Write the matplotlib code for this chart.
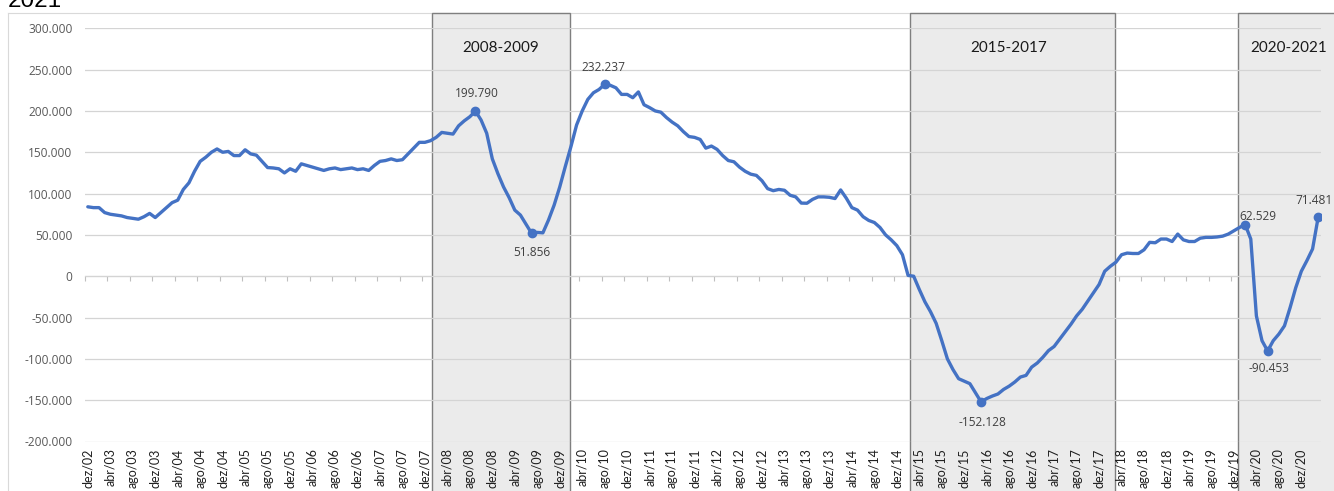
import matplotlib
matplotlib.use("Agg")
import matplotlib.pyplot as plt
import matplotlib.transforms as mtransforms
from matplotlib.patches import Rectangle
from matplotlib.lines import Line2D
from matplotlib.ticker import FuncFormatter

# ---------------- data ----------------
month_names = ["jan", "fev", "mar", "abr", "mai", "jun",
               "jul", "ago", "set", "out", "nov", "dez"]
start_year, start_month = 2002, 12
n_months = 220
categories = []
for k in range(n_months):
    m = (start_month - 1 + k) % 12
    y = start_year + (start_month - 1 + k) // 12
    categories.append(f"{month_names[m]}/{y % 100:02d}")

# values in thousands (dez/02 .. mar/21)
values_k = [
    84, 83, 83, 77, 75, 74, 73, 71, 70, 69,
    72, 76, 71, 77, 83, 89, 92, 105, 113, 127,
    139, 144, 150, 154, 150, 151, 146, 146, 153, 148,
    146.5, 139, 131.5, 131, 130, 125, 130, 127, 136, 134,
    132, 130, 128, 130, 131, 129, 130, 131, 129, 130,
    128, 134, 139, 140, 142, 140, 141, 148, 155, 162,
    162, 164, 168, 174, 173, 172, 182, 188, 193, 199.790,
    189, 173, 142, 124, 108, 95, 80, 74, 63, 51.856,
    53, 52.5, 68, 86, 108, 133, 157, 183, 200, 214,
    222, 226, 232.237, 231, 228, 220, 220, 216, 223, 207.5,
    204, 200, 198.5, 192, 186.5, 182, 175, 169, 168, 165.5,
    155, 157.5, 153.5, 146, 140, 138.5, 132, 127, 123.5, 122,
    115.5, 106, 103.5, 105, 104, 98, 96, 88.5, 88.3, 93,
    96, 96, 95.5, 94, 104.4, 94.5, 83, 80, 72, 67.5,
    65, 59, 50, 44, 37, 26, 1, 0, -16, -31,
    -43, -57, -78, -100, -113, -124, -127, -130, -141, -152.128,
    -148, -145, -142.5, -137, -133, -128, -122, -120, -110, -105,
    -98, -90, -85, -76, -67, -58, -48, -40, -30, -20,
    -10, 6, 12, 17, 26, 28, 27.5, 27.5, 32, 41,
    40.5, 45, 45, 42, 51, 44, 42, 42, 46, 47,
    47, 47.5, 48.5, 51, 55, 59, 62.529, 45, -48, -78,
    -90.453, -78, -70, -60, -38, -14, 6, 19, 33, 71.481,
]

highlight_idx = [69, 79, 92, 159, 206, 210, 219]

period_labels = ["2008-2009", "2015-2017", "2020-2021"]
period_start = [61.2, 146.4, 204.8]
period_end = [85.8, 182.9, 232.0]
period_label_x = [73.5, 163.9, 213.8]

title_tail = "2021"

# ---------------- figure ----------------
W, H = 1334, 491
fig = plt.figure(figsize=(W / 100, H / 100), dpi=100)
fig.patch.set_facecolor("white")

ax_left, ax_right, ax_top, ax_bottom = 85, 1321, 28.3, 441.5
ax = fig.add_axes([ax_left / W, 1 - ax_bottom / H,
                   (ax_right - ax_left) / W, (ax_bottom - ax_top) / H])
ax.set_xlim(-0.5, n_months - 0.5)
ax.set_ylim(-200, 300)
for s in ax.spines.values():
    s.set_visible(False)

# shaded periods (spanning the whole chart height)
blend = mtransforms.blended_transform_factory(ax.transData, fig.transFigure)
box_top = 1 - 13 / H
for lab, s, e, lx in zip(period_labels, period_start, period_end, period_label_x):
    ax.add_patch(Rectangle((s, -0.02), e - s, box_top + 0.02, transform=blend,
                           facecolor="#EBEBEB", edgecolor="#7F7F7F",
                           linewidth=1.0, clip_on=False, zorder=0.2))
    ax.text(lx, 1 - 47.5 / H, lab, transform=blend, ha="center", va="center",
            fontsize=11, family="Lato", color="#1A1A1A", zorder=3)

# grid
ax.set_axisbelow(True)
ax.grid(axis="y", color="#D4D4D4", linewidth=0.9)
ax.grid(axis="x", visible=False)

# y ticks
ax.set_yticks(range(-200, 301, 50))
ax.yaxis.set_major_formatter(FuncFormatter(
    lambda v, p: f"{v * 1000:,.0f}".replace(",", ".")))
ax.tick_params(axis="y", length=0, pad=9, labelsize=8.6,
               labelcolor="#595959")
for t in ax.get_yticklabels():
    t.set_family("Open Sans")

# x tick labels (every 4 months)
xt = list(range(0, n_months, 4))
ax.set_xticks(xt)
ax.set_xticklabels([categories[i] for i in xt], rotation=90,
                   family="Lato", fontsize=9.0, color="#1F1F1F")
ax.tick_params(axis="x", length=0, pad=5)

# zero axis line with tick marks at category boundaries
zero_loc = (0 - (-200)) / 500
sec = ax.secondary_xaxis(zero_loc)
sec.set_xticks([b - 0.5 for b in range(0, n_months + 1, 4)])
sec.tick_params(axis="x", direction="out", length=3.5, width=0.8,
                color="#BFBFBF", labelbottom=False, labeltop=False)
sec.spines["bottom"].set_color("#BFBFBF")
sec.spines["bottom"].set_linewidth(0.8)

# series
x = list(range(n_months))
ax.plot(x, values_k, color="#4472C4", linewidth=2.4, zorder=2,
        solid_joinstyle="round", solid_capstyle="round")
ax.plot(highlight_idx, [values_k[i] for i in highlight_idx], linestyle="none",
        marker="o", markersize=6, color="#4472C4", zorder=2.5)

offsets_px = {69: (1, 18), 79: (0, -19), 92: (-1, 17), 159: (1, -21),
              206: (13, 8), 210: (1, -18), 219: (-4, 17)}
for i in highlight_idx:
    dx, dy = offsets_px[i]
    ax.annotate(f"{values_k[i] * 1000:,.0f}".replace(",", "."),
                (i, values_k[i]), xytext=(dx * 0.72, dy * 0.72),
                textcoords="offset points", ha="center", va="center",
                fontsize=8.6, family="Open Sans", color="#404040", zorder=3)

# chart-area border (partially visible)
fig.add_artist(Line2D([8 / W, 1.01], [box_top, box_top], color="#D9D9D9",
                      linewidth=0.8, zorder=0))
fig.add_artist(Line2D([8 / W, 8 / W], [-0.01, box_top], color="#D9D9D9",
                      linewidth=0.8, zorder=0))

# cut-off title tail
fig.text(8 / W, 1 - 6.7 / H, title_tail, ha="left", va="baseline",
         fontsize=17.5, family="Liberation Sans", color="#000000")

fig.savefig("out.png", dpi=100, facecolor="white")
